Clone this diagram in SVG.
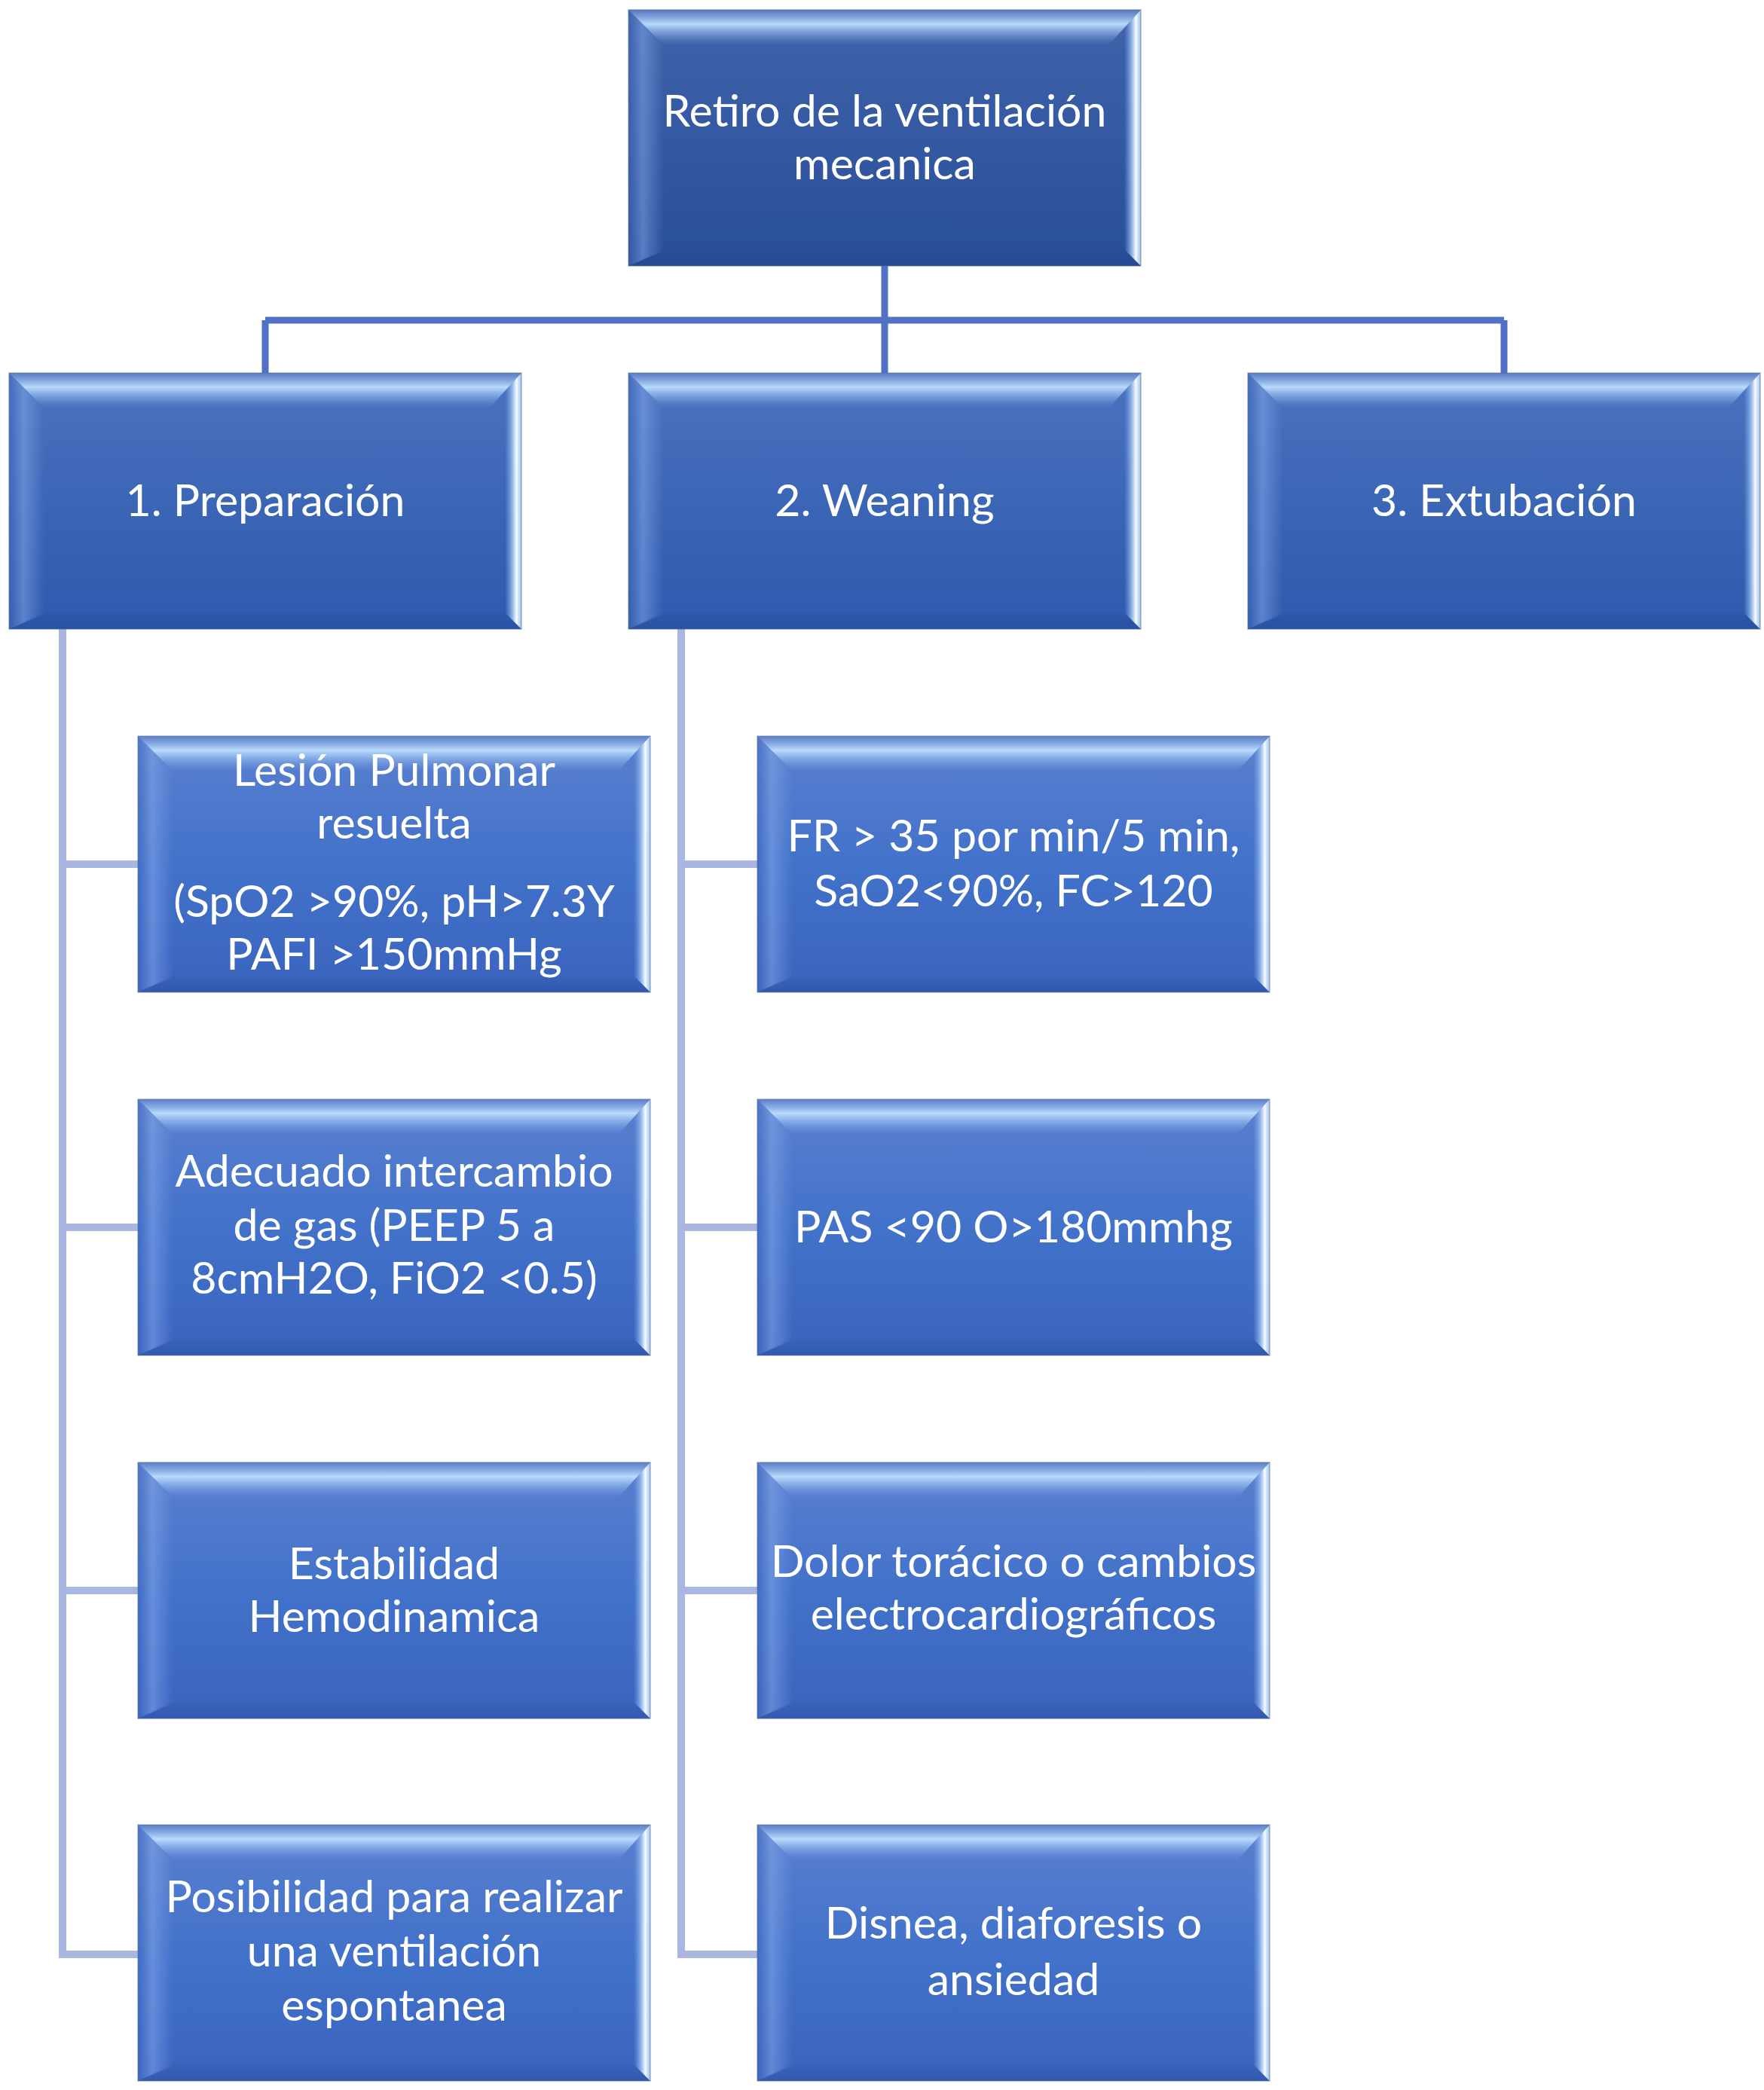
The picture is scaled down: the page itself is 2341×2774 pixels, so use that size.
<svg xmlns="http://www.w3.org/2000/svg" xmlns:xlink="http://www.w3.org/1999/xlink" width="2341" height="2774" viewBox="0 0 2341 2774">
<defs>
<linearGradient id="gMain" x1="0" y1="0" x2="0" y2="1"><stop offset="0" stop-color="#4063AA"/><stop offset="1" stop-color="#294E99"/></linearGradient>
<linearGradient id="gL1" x1="0" y1="0" x2="0" y2="1"><stop offset="0" stop-color="#4A72BF"/><stop offset="1" stop-color="#2D5AAD"/></linearGradient>
<linearGradient id="gL2" x1="0" y1="0" x2="0" y2="1"><stop offset="0" stop-color="#5A80CF"/><stop offset="0.5" stop-color="#4272CA"/><stop offset="1" stop-color="#3A64BE"/></linearGradient>
<linearGradient id="gTop" x1="0" y1="0" x2="0" y2="1"><stop offset="0" stop-color="#5F80C8" stop-opacity="0.7"/><stop offset="0.4" stop-color="#BEE0FF" stop-opacity="0.95"/><stop offset="0.65" stop-color="#A4C9F4" stop-opacity="0.55"/><stop offset="1" stop-color="#7A9EE0" stop-opacity="0"/></linearGradient>
<linearGradient id="gLeft" x1="0" y1="0" x2="1" y2="0"><stop offset="0" stop-color="#3D65BA" stop-opacity="0.4"/><stop offset="0.4" stop-color="#8AACEC" stop-opacity="0.5"/><stop offset="1" stop-color="#86A8EA" stop-opacity="0"/></linearGradient>
<linearGradient id="gRight" x1="0" y1="0" x2="1" y2="0"><stop offset="0" stop-color="#7CA2E2" stop-opacity="0"/><stop offset="0.35" stop-color="#8FB8EE" stop-opacity="0.7"/><stop offset="0.7" stop-color="#F6FCFF" stop-opacity="1"/><stop offset="1" stop-color="#A8CCF4" stop-opacity="0.9"/></linearGradient>
<linearGradient id="gBottom" x1="0" y1="0" x2="0" y2="1"><stop offset="0" stop-color="#1F3F88" stop-opacity="0.08"/><stop offset="1" stop-color="#1F3F88" stop-opacity="0.3"/></linearGradient>
<g id="bevel">
<polygon points="0,0 680,0 637,47 47,47" fill="url(#gTop)"/>
<polygon points="0,0 47,47 47,320 0,340" fill="url(#gLeft)"/>
<polygon points="0,340 680,340 658,318 45,318" fill="url(#gBottom)"/>
<polygon points="680,0 680,340 658,318 658,24" fill="url(#gRight)"/>
<rect x="0" y="0" width="680" height="340" fill="none" stroke="#5E6F94" stroke-opacity="0.5" stroke-width="1.5"/>
</g>
</defs>
<style>
.t{font-family:Lato,"Liberation Sans",sans-serif;font-size:59px;fill:#FFFFFF;text-anchor:middle}
.c1{fill:none;stroke:#5071C6;stroke-width:9}
.c2{fill:none;stroke:#A8B6E1;stroke-width:10}
</style>
<rect x="0" y="0" width="2341" height="2774" fill="#FFFFFF"/>
<g id="connectors">
<path class="c1" d="M1174,352 V496 M352,425 H1996 M352,425 V496 M1996,425 V496"/>
<path class="c2" d="M83,834 V2594 H183 M83,1147 H183 M83,1629 H183 M83,2111 H183"/>
<path class="c2" d="M904,834 V2594 H1005 M904,1147 H1005 M904,1629 H1005 M904,2111 H1005"/>
</g>
<g id="n0"><rect x="834" y="13" width="680" height="340" fill="url(#gMain)"/><use xlink:href="#bevel" x="834" y="13"/><text class="t" x="1174" y="168">Retiro de la ventilación</text><text class="t" x="1174" y="238">mecanica</text></g>
<g id="n1"><rect x="12" y="495" width="680" height="340" fill="url(#gL1)"/><use xlink:href="#bevel" x="12" y="495"/><text class="t" x="352" y="685">1. Preparación</text></g>
<g id="n2"><rect x="834" y="495" width="680" height="340" fill="url(#gL1)"/><use xlink:href="#bevel" x="834" y="495"/><text class="t" x="1174" y="685">2. Weaning</text></g>
<g id="n3"><rect x="1656" y="495" width="680" height="340" fill="url(#gL1)"/><use xlink:href="#bevel" x="1656" y="495"/><text class="t" x="1996" y="685">3. Extubación</text></g>
<g id="n1a"><rect x="183" y="977" width="680" height="340" fill="url(#gL2)"/><use xlink:href="#bevel" x="183" y="977"/><text class="t" x="523" y="1043">Lesión Pulmonar</text><text class="t" x="523" y="1113">resuelta</text><text class="t" x="523" y="1217">(SpO2 &gt;90%, pH&gt;7.3Y</text><text class="t" x="523" y="1287">PAFI &gt;150mmHg</text></g>
<g id="n1b"><rect x="183" y="1459" width="680" height="340" fill="url(#gL2)"/><use xlink:href="#bevel" x="183" y="1459"/><text class="t" x="523" y="1575">Adecuado intercambio</text><text class="t" x="523" y="1647">de gas (PEEP 5 a</text><text class="t" x="523" y="1717">8cmH2O, FiO2 &lt;0.5)</text></g>
<g id="n1c"><rect x="183" y="1941" width="680" height="340" fill="url(#gL2)"/><use xlink:href="#bevel" x="183" y="1941"/><text class="t" x="523" y="2096">Estabilidad</text><text class="t" x="523" y="2166">Hemodinamica</text></g>
<g id="n1d"><rect x="183" y="2422" width="680" height="340" fill="url(#gL2)"/><use xlink:href="#bevel" x="183" y="2422"/><text class="t" x="523" y="2538">Posibilidad para realizar</text><text class="t" x="523" y="2610">una ventilación</text><text class="t" x="523" y="2682">espontanea</text></g>
<g id="n2a"><rect x="1005" y="977" width="680" height="340" fill="url(#gL2)"/><use xlink:href="#bevel" x="1005" y="977"/><text class="t" x="1345" y="1130">FR &gt; 35 por min/5 min,</text><text class="t" x="1345" y="1203">SaO2&lt;90%, FC&gt;120</text></g>
<g id="n2b"><rect x="1005" y="1459" width="680" height="340" fill="url(#gL2)"/><use xlink:href="#bevel" x="1005" y="1459"/><text class="t" x="1345" y="1649">PAS &lt;90 O&gt;180mmhg</text></g>
<g id="n2c"><rect x="1005" y="1941" width="680" height="340" fill="url(#gL2)"/><use xlink:href="#bevel" x="1005" y="1941"/><text class="t" x="1345" y="2093">Dolor torácico o cambios</text><text class="t" x="1345" y="2163">electrocardiográficos</text></g>
<g id="n2d"><rect x="1005" y="2422" width="680" height="340" fill="url(#gL2)"/><use xlink:href="#bevel" x="1005" y="2422"/><text class="t" x="1345" y="2573">Disnea, diaforesis o</text><text class="t" x="1345" y="2648">ansiedad</text></g>
</svg>
